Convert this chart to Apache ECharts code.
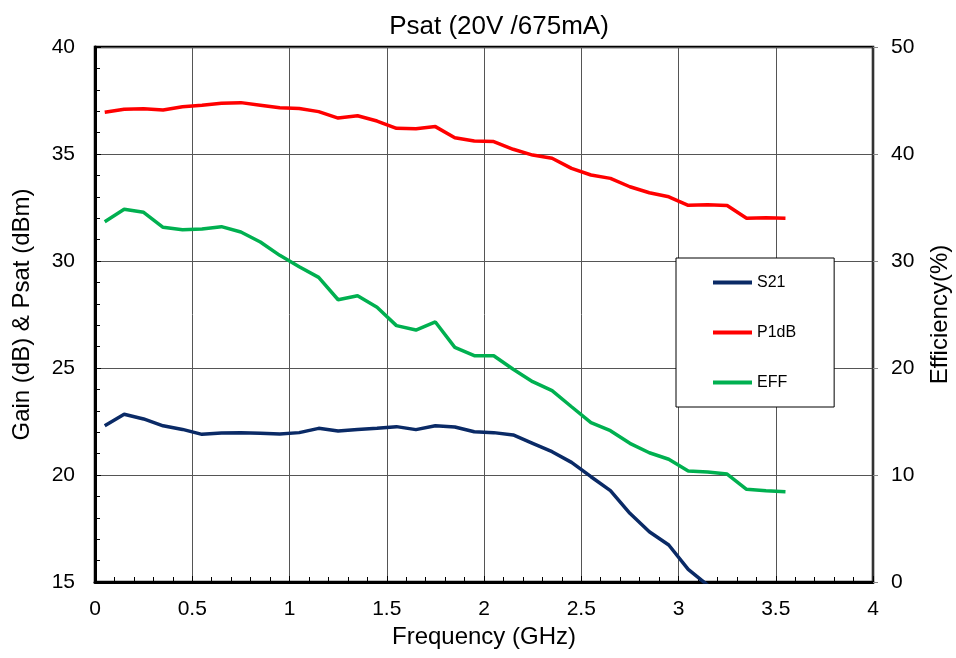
<!DOCTYPE html>
<html><head><meta charset="utf-8">
<script src="https://cdn.jsdelivr.net/npm/echarts@6/dist/echarts.min.js"></script>
<style>html,body{margin:0;padding:0;background:#fff}#c{width:956px;height:658px}</style>
</head><body><div id="c"></div>
<script>
const freq = [0.05,0.15,0.25,0.35,0.45,0.55,0.65,0.75,0.85,0.95,1.05,1.15,1.25,1.35,1.45,1.55,1.65,1.75,1.85,1.95,2.05,2.15,2.25,2.35,2.45,2.55,2.65,2.75,2.85,2.95,3.05,3.15,3.25,3.35,3.45,3.55];
const s21 = [22.30,22.84,22.62,22.30,22.13,21.90,21.96,21.98,21.95,21.92,21.98,22.18,22.06,22.13,22.18,22.26,22.12,22.30,22.24,22.02,21.98,21.87,21.48,21.09,20.59,19.92,19.27,18.21,17.35,16.73,15.59,14.85];
const p1db = [36.95,37.09,37.12,37.06,37.21,37.28,37.37,37.40,37.28,37.16,37.13,36.98,36.68,36.79,36.54,36.20,36.18,36.28,35.76,35.61,35.58,35.22,34.95,34.80,34.33,34.02,33.86,33.47,33.19,33.00,32.60,32.63,32.59,32.00,32.02,32.00];
const eff = [33.67,34.83,34.55,33.15,32.93,32.99,33.21,32.71,31.78,30.53,29.47,28.47,26.38,26.76,25.67,23.96,23.55,24.30,21.93,21.15,21.15,19.88,18.72,17.88,16.38,14.89,14.14,12.96,12.08,11.47,10.37,10.28,10.09,8.66,8.53,8.44];
const xTicks = [0,0.5,1,1.5,2,2.5,3,3.5,4];
const leftTicks = [15,20,25,30,35,40];
const rightTicks = [0,10,20,30,40,50];

const pair = (xs, ys) => ys.map((v, i) => [xs[i], v]);
const FONT = 'Liberation Sans, Arial, sans-serif';
const chart = echarts.init(document.getElementById('c'), null, {renderer: 'canvas'});
chart.setOption({
  animation: false,
  backgroundColor: '#fff',
  textStyle: {fontFamily: FONT},
  title: {text: 'Psat (20V /675mA)', left: 494, textAlign: 'center', top: 9,
    textStyle: {fontFamily: FONT, fontSize: 26, fontWeight: 'normal', color: '#000'}},
  grid: {left: 95, right: 83, top: 47, bottom: 76, show: true, borderColor: '#000', borderWidth: 2.5,
    containLabel: false, outerBoundsMode: 'none'},
  legend: {
    orient: 'vertical', left: 676, top: 258,
    padding: [16, 38, 16, 37], itemGap: 33,
    itemWidth: 39, itemHeight: 4, icon: 'rect',
    backgroundColor: '#fff', borderColor: '#000', borderWidth: 1,
    textStyle: {fontFamily: FONT, fontSize: 16, color: '#000', lineHeight: 17},
    data: ['S21', 'P1dB', 'EFF']
  },
  xAxis: {
    type: 'value', min: xTicks[0], max: xTicks[xTicks.length - 1], interval: 0.5,
    name: 'Frequency (GHz)', nameLocation: 'middle', nameGap: 32,
    nameTextStyle: {fontFamily: FONT, fontSize: 24, color: '#000'},
    axisLine: {show: true, onZero: false, lineStyle: {color: '#000', width: 3}},
    axisTick: {show: true, inside: true, length: 6, lineStyle: {color: '#000', width: 1}},
    minorTick: {show: true, splitNumber: 5, length: 5, lineStyle: {color: '#000', width: 1}},
    axisLabel: {fontFamily: FONT, fontSize: 21, color: '#000', margin: 17,
      formatter: v => String(v)},
    splitLine: {show: true, lineStyle: {color: '#555', width: 1}}
  },
  yAxis: [{
    type: 'value', min: leftTicks[0], max: leftTicks[leftTicks.length - 1], interval: 5,
    name: 'Gain (dB) & Psat (dBm)', nameLocation: 'middle', nameGap: 61,
    nameTextStyle: {fontFamily: FONT, fontSize: 24, color: '#000'},
    axisLine: {show: true, lineStyle: {color: '#000', width: 3}},
    axisTick: {show: true, inside: true, length: 6, lineStyle: {color: '#000'}},
    minorTick: {show: true, splitNumber: 5, length: 5, lineStyle: {color: '#000'}},
    axisLabel: {fontFamily: FONT, fontSize: 21, color: '#000', margin: 20},
    splitLine: {show: true, lineStyle: {color: '#555', width: 1}}
  }, {
    type: 'value', position: 'right', min: rightTicks[0], max: rightTicks[rightTicks.length - 1], interval: 10,
    name: 'Efficiency(%)', nameLocation: 'middle', nameGap: 55, nameRotate: 90,
    nameTextStyle: {fontFamily: FONT, fontSize: 24, color: '#000'},
    axisLine: {show: true, lineStyle: {color: '#333', width: 2}},
    axisTick: {show: true, inside: false, length: 5, lineStyle: {color: '#888'}},
    axisLabel: {fontFamily: FONT, fontSize: 21, color: '#000', margin: 18},
    splitLine: {show: false}
  }],
  series: [
    {name: 'S21', type: 'line', yAxisIndex: 0, data: pair(freq, s21), showSymbol: false, symbol: 'none',
      clip: true, lineStyle: {color: '#0a2a66', width: 3.5}, itemStyle: {color: '#0a2a66'}},
    {name: 'P1dB', type: 'line', yAxisIndex: 0, data: pair(freq, p1db), showSymbol: false, symbol: 'none',
      lineStyle: {color: '#ff0000', width: 3.5}, itemStyle: {color: '#ff0000'}},
    {name: 'EFF', type: 'line', yAxisIndex: 1, data: pair(freq, eff), showSymbol: false, symbol: 'none',
      lineStyle: {color: '#00b050', width: 3.5}, itemStyle: {color: '#00b050'}}
  ]
});
</script></body></html>
